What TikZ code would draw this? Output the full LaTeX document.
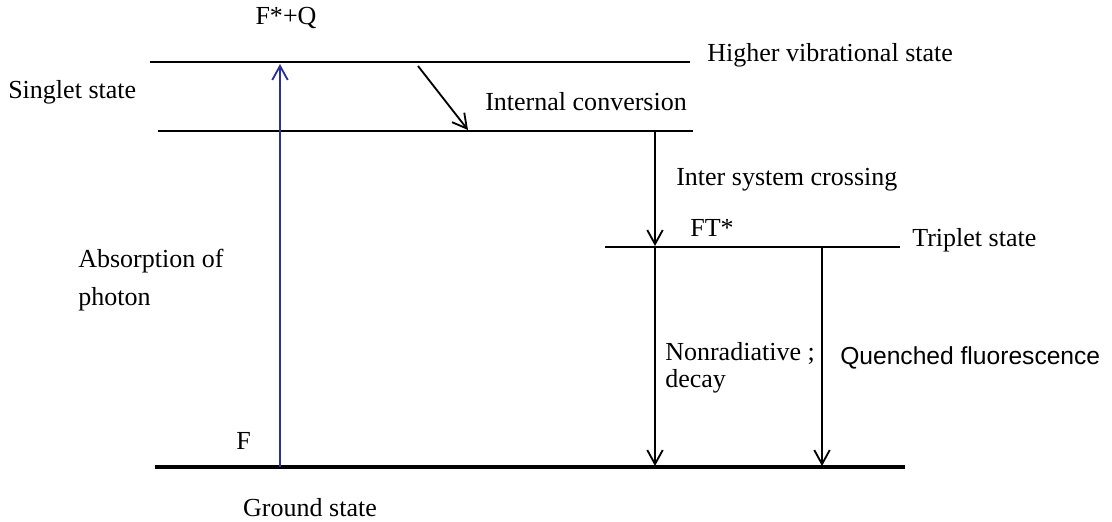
\documentclass[tikz,border=0pt]{standalone}
\usepackage{fontspec}
\setmainfont{Liberation Serif}
\setsansfont{Liberation Sans}
\usetikzlibrary{positioning, arrows.meta}
\definecolor{absblue}{RGB}{40,50,150}

\begin{document}
\begin{tikzpicture}[x=0.025cm, y=-0.025cm,
    level/.style={line width=1.8pt},
    trans/.style={-{Straight Barb[length=10pt,width=11pt]}, line width=1.3pt},
    lbl/.style={anchor=west, inner sep=0pt, font=\fontsize{18.5}{22}\selectfont, align=left}]
    \useasboundingbox (0,0) rectangle (1112,521);

    % energy levels
    \coordinate (s1l) at (150,62);   \coordinate (s1r) at (690,62);
    \coordinate (s0l) at (158,131);  \coordinate (s0r) at (693,131);
    \coordinate (t1l) at (605,247);  \coordinate (t1r) at (900,247);
    \coordinate (gl) at (155,467);   \coordinate (gr) at (905,467);
    \draw[level] (s1l) -- (s1r);
    \draw[level] (s0l) -- (s0r);
    \draw[level] (t1l) -- (t1r);
    \draw[line width=3pt] (gl) -- (gr);

    % transition end points
    \coordinate (absA) at (280,467); \coordinate (absB) at (280,64);
    \coordinate (icA) at (418,66);   \coordinate (icB) at (468,130);
    \coordinate (iscA) at (655,131); \coordinate (iscB) at (655,246);
    \coordinate (nrA) at (655,248);  \coordinate (nrB) at (655,466);
    \coordinate (qfA) at (822,248);  \coordinate (qfB) at (822,466);

    \draw[trans, absblue] (absA) -- (absB);
    \draw[trans] (icA) -- (icB);
    \draw[trans] (iscA) -- (iscB);
    \draw[trans] (nrA) -- (nrB);
    \draw[trans] (qfA) -- (qfB);

    % labels
    \node[lbl, anchor=center] (fstar) at (286,18) {F*+Q};
    \node[lbl] (higher) at (707,55) {Higher vibrational state};
    \node[lbl] (singlet) at (8,92) {Singlet state};
    \node[lbl] (ic) at (485,102) {Internal conversion};
    \node[lbl] (isc) at (676,180) {Inter system crossing};
    \node[lbl] (ft) at (690,228) {FT*};
    \node[lbl] (triplet) at (912,240) {Triplet state};
    \node[lbl, font=\fontsize{18.5}{27}\selectfont] (absorb) at (78,280) {Absorption of\\photon};
    \node[lbl, font=\fontsize{18.5}{19}\selectfont] (nonrad) at (665,368) {Nonradiative ;\\decay};
    \node[lbl, font=\sffamily\fontsize{17.5}{20}\selectfont] (quench) at (840,358) {Quenched fluorescence};
    \node[lbl] (f) at (236,441) {F};
    \node[lbl, anchor=center] (ground) at (310,508) {Ground state};
\end{tikzpicture}
\end{document}
